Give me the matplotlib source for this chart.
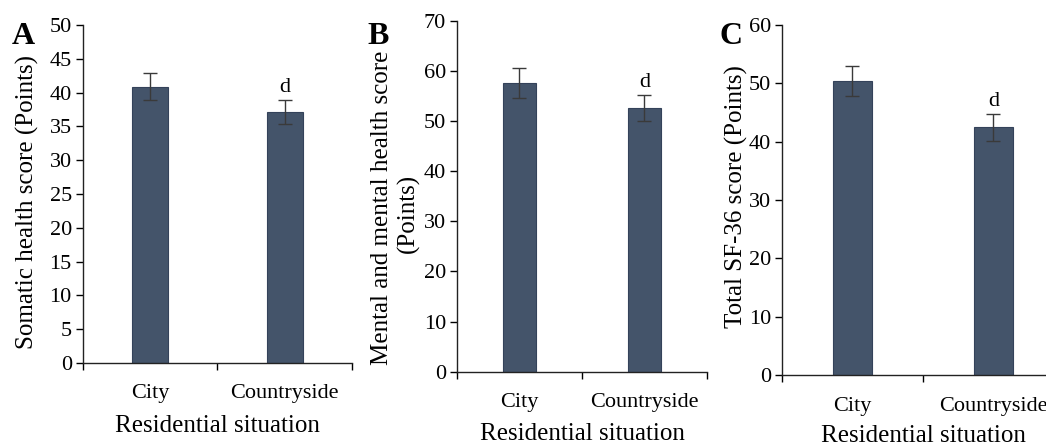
import numpy as np
import matplotlib.pyplot as plt

plt.rcParams['font.family'] = 'Liberation Serif'

groups = ['City', 'Countryside']

somatic = [40.9, 37.1]
somatic_err = [2.0, 1.8]

mental = [57.5, 52.6]
mental_err = [3.0, 2.6]

total = [50.4, 42.5]
total_err = [2.6, 2.3]

bar_color = '#44546a'

fig = plt.figure(figsize=(10.46, 4.45), dpi=100)

# [left, bottom, width, height]
ax_a = fig.add_axes([0.0793, 0.1843, 0.2572, 0.7595])
ax_b = fig.add_axes([0.4369, 0.1647, 0.2390, 0.7888])
ax_c = fig.add_axes([0.7476, 0.1573, 0.2696, 0.7865])


def panel(ax, vals, errs, ymax, step, tickpad, xlpad):
    x = np.arange(len(groups))
    ax.bar(x, vals, width=0.27, color=bar_color, edgecolor='#34425a', linewidth=0.8, zorder=2)
    ax.errorbar(x, vals, yerr=errs, fmt='none', ecolor='#3a3a3a', elinewidth=1.0,
                capsize=5, capthick=1.0, zorder=3)
    ax.set_xlim(-0.5, 1.5)
    ax.set_ylim(0, ymax)
    ax.set_yticks(np.arange(0, ymax + 1, step))
    # major ticks sit between the groups, labels on minor ticks
    ax.set_xticks([-0.5, 0.5, 1.5])
    ax.set_xticklabels([])
    ax.set_xticks(x, minor=True)
    ax.set_xticklabels(groups, minor=True)
    ax.tick_params(axis='x', which='minor', length=0, labelsize=16, pad=tickpad)
    ax.tick_params(axis='x', which='major', direction='out', length=5, width=1)
    ax.tick_params(axis='y', direction='out', length=5, width=1, labelsize=16, pad=3)
    for s in ['top', 'right']:
        ax.spines[s].set_visible(False)
    for s in ['left', 'bottom']:
        ax.spines[s].set_linewidth(1.0)
        ax.spines[s].set_color('#222222')
    ax.text(1, vals[1] + errs[1] + ymax * 0.008, 'd', ha='center', va='bottom', fontsize=16)
    ax.set_xlabel('Residential situation', fontsize=18, labelpad=xlpad)


panel(ax_a, somatic, somatic_err, 50, 5, 15, 9)
panel(ax_b, mental, mental_err, 70, 10, 15, 8)
panel(ax_c, total, total_err, 60, 10, 15.5, 6.5)

ax_a.text(-0.205, 0.476, 'Somatic health score (Points)', transform=ax_a.transAxes,
          rotation=90, ha='center', va='center', fontsize=18)
ax_b.text(-0.30, 0.466, 'Mental and mental health score', transform=ax_b.transAxes,
          rotation=90, ha='center', va='center', fontsize=18)
ax_b.text(-0.196, 0.45, '(Points)', transform=ax_b.transAxes,
          rotation=90, ha='center', va='center', fontsize=18)
ax_c.text(-0.162, 0.509, 'Total SF-36 score (Points)', transform=ax_c.transAxes,
          rotation=90, ha='center', va='center', fontsize=18)

fig.text(0.011, 0.900, 'A', fontsize=23, fontweight='bold')
fig.text(0.351, 0.902, 'B', fontsize=23, fontweight='bold')
fig.text(0.688, 0.900, 'C', fontsize=23, fontweight='bold')

fig.savefig('out.png', dpi=100)
